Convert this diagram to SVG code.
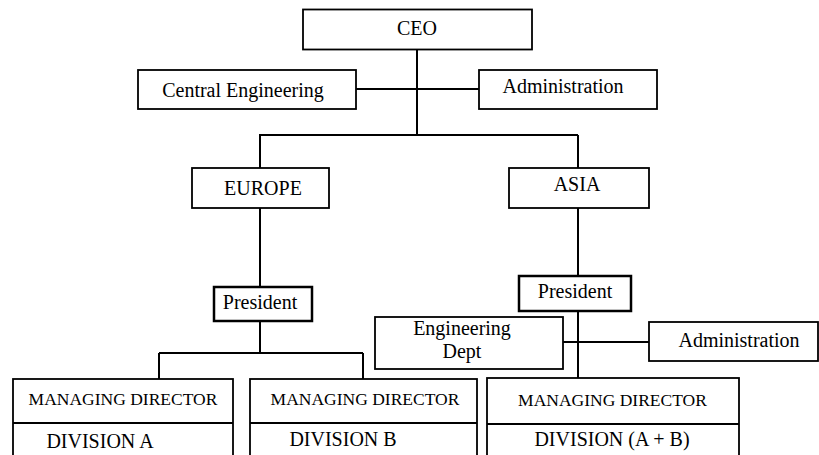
<svg xmlns="http://www.w3.org/2000/svg" width="819" height="455" viewBox="0 0 819 455">
<style>
.box{fill:#fff;stroke:#000;stroke-width:1.8}
.pbox{fill:#fff;stroke:#000;stroke-width:2.5}
.ln{fill:none;stroke:#000;stroke-width:2}
.t{font-family:'Liberation Serif','DejaVu Serif',serif;font-size:20px;fill:#000;text-anchor:middle}
.sm{font-size:17.5px}
</style>
<rect width="819" height="455" fill="#fff"/>
<g id="connectors">
<path class="ln" d="M417 49V135M356 89H479M259 135H578M260 135V168M578 135V168"/>
<path class="ln" d="M260 208V287M578 208V277"/>
<path class="ln" d="M260 321V353M159 353H363M159 353V379M363 353V379"/>
<path class="ln" d="M578 311V378M563 342H649"/>
</g>
<g font-family="Liberation Serif, serif">
<g id="ceo"><rect class="box" x="303" y="9.5" width="229" height="40"/><text class="t" x="417" y="35">CEO</text></g>
<g id="central-engineering"><rect class="box" x="138" y="70" width="218" height="39"/><text class="t" x="243" y="97">Central Engineering</text></g>
<g id="administration-top"><rect class="box" x="479" y="70" width="178" height="39"/><text class="t" x="563" y="93">Administration</text></g>
<g id="europe"><rect class="box" x="192" y="168" width="137" height="40"/><text class="t" x="263" y="195">EUROPE</text></g>
<g id="asia"><rect class="box" x="509" y="168" width="140" height="40"/><text class="t" x="577" y="191">ASIA</text></g>
<g id="president-europe"><rect class="pbox" x="214" y="287" width="98" height="34"/><text class="t" x="260" y="309">President</text></g>
<g id="president-asia"><rect class="pbox" x="519" y="276" width="112" height="35"/><text class="t" x="575" y="298">President</text></g>
<g id="engineering-dept"><rect class="box" x="375" y="317" width="188" height="52"/><text class="t" x="462" y="335">Engineering</text><text class="t" x="462" y="358">Dept</text></g>
<g id="administration-asia"><rect class="box" x="649" y="322" width="169" height="39"/><text class="t" x="739" y="347">Administration</text></g>
<g id="md-division-a"><rect class="box" x="13" y="379" width="220" height="85"/><path class="ln" d="M13 423H233"/><text class="t sm" x="123" y="405">MANAGING DIRECTOR</text><text class="t" x="100" y="448">DIVISION A</text></g>
<g id="md-division-b"><rect class="box" x="250" y="379" width="227" height="85"/><path class="ln" d="M250 423H477"/><text class="t sm" x="365" y="405">MANAGING DIRECTOR</text><text class="t" x="343" y="446">DIVISION B</text></g>
<g id="md-division-ab"><rect class="box" x="487" y="378" width="252" height="86"/><path class="ln" d="M487 424H739"/><text class="t sm" x="612.5" y="406">MANAGING DIRECTOR</text><text class="t" x="612" y="446">DIVISION (A + B)</text></g>
</g>
</svg>
